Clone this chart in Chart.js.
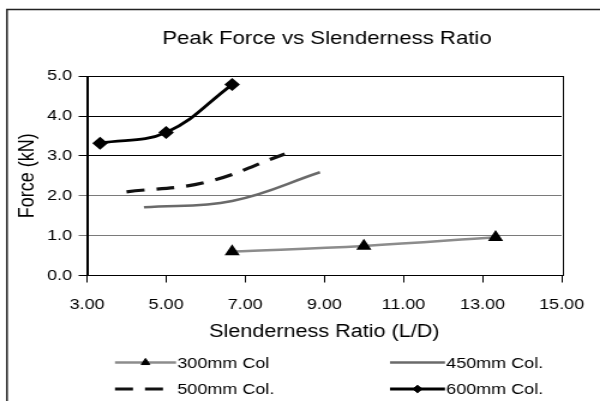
<!DOCTYPE html>
<html>
<head>
<meta charset="utf-8">
<title>Peak Force vs Slenderness Ratio</title>
<script src="https://cdn.jsdelivr.net/npm/chart.js@4/dist/chart.umd.min.js"></script>
<style>
  html, body { margin: 0; padding: 0; background: #fff; overflow: hidden; }
  #wrap { width: 600px; height: 401px; overflow: hidden; }
</style>
</head>
<body>
<!-- the source picture is stretched sideways, so the canvas is drawn 545 wide and shown 654 wide -->
<div id="wrap"><canvas id="forceChart" width="545" height="401" style="width:654px;height:401px;display:block"></canvas></div>
<script>
const seriesNames = ['300mm Col', '450mm Col.', '500mm Col.', '600mm Col.'];

const ratio300 = [6.67, 10.0, 13.33];
const force300 = [0.60, 0.74, 0.96];

const ratio450 = [4.44, 6.67, 8.89];
const force450 = [1.71, 1.87, 2.59];

const ratio500 = [4.0, 6.0, 8.0];
const force500 = [2.10, 2.34, 3.05];

const ratio600 = [3.33, 5.0, 6.67];
const force600 = [3.32, 3.59, 4.79];

const xTicks = [3, 5, 7, 9, 11, 13, 15];
const yTicks = [0, 1, 2, 3, 4, 5];

const FONT = '"Liberation Sans", Arial, sans-serif';

function toPoints(xs, ys) {
  return xs.map((x, i) => ({ x: x, y: ys[i] }));
}

const chartBorder = {
  id: 'chartBorder',
  beforeDraw(chart) {
    const ctx = chart.ctx;
    ctx.save();
    ctx.fillStyle = '#fff';
    ctx.fillRect(0, 0, chart.width, chart.height);
    ctx.strokeStyle = '#222';
    ctx.lineWidth = 1.5;
    ctx.strokeRect(5.8, 9.5, chart.width + 20, chart.height + 20);
    ctx.restore();
  },
  afterDatasetsDraw(chart) {
    const a = chart.chartArea;
    const ctx = chart.ctx;
    ctx.save();
    ctx.strokeStyle = '#000';
    ctx.lineWidth = 1;
    ctx.strokeRect(Math.round(a.left) + 0.5, Math.round(a.top) + 0.5,
      Math.round(a.right - a.left), Math.round(a.bottom - a.top));
    ctx.restore();
  }
};

// two column legend below the axis title
const sideLegend = {
  id: 'sideLegend',
  afterDraw(chart) {
    const ctx = chart.ctx;
    const cols = [{ x0: 95.8, x1: 146.7 }, { x0: 325, x1: 370.8 }];
    const rows = [362.5, 389];
    chart.data.datasets.forEach((ds, i) => {
      const c = cols[i % 2];
      const y = rows[Math.floor(i / 2)];
      const dash = ds.borderDash || [];
      const lineEnd = dash.length ? c.x0 + 2 * dash[0] + dash[1] : c.x1;
      ctx.save();
      ctx.strokeStyle = ds.borderColor;
      ctx.lineWidth = ds.borderWidth;
      ctx.setLineDash(dash);
      ctx.beginPath();
      ctx.moveTo(c.x0, y);
      ctx.lineTo(lineEnd, y);
      ctx.stroke();
      ctx.setLineDash([]);
      if (ds.pointRadius > 0) {
        ctx.fillStyle = ds.pointBackgroundColor;
        ctx.strokeStyle = ds.pointBorderColor;
        ctx.lineWidth = 1;
        Chart.helpers.drawPoint(ctx, {
          pointStyle: ds.pointStyle,
          radius: ds.pointRadius * 0.85,
          rotation: 0,
          borderWidth: 1
        }, (c.x0 + c.x1) / 2, y);
      }
      ctx.fillStyle = '#000';
      ctx.font = '15px ' + FONT;
      ctx.textAlign = 'left';
      ctx.textBaseline = 'middle';
      ctx.fillText(ds.label, c.x1 + 1, y + 1);
      ctx.restore();
    });
  }
};

const ctx = document.getElementById('forceChart').getContext('2d');
new Chart(ctx, {
  type: 'scatter',
  data: {
    datasets: [
      {
        label: seriesNames[0],
        data: toPoints(ratio300, force300),
        showLine: true,
        borderColor: '#8c8c8c',
        borderWidth: 2.5,
        pointStyle: 'triangle',
        pointRadius: 4.8,
        pointBackgroundColor: '#000',
        pointBorderColor: '#000',
        tension: 0.4
      },
      {
        label: seriesNames[1],
        data: toPoints(ratio450, force450),
        showLine: true,
        borderColor: '#6a6a6a',
        borderWidth: 2.5,
        pointRadius: 0,
        tension: 0.4
      },
      {
        label: seriesNames[2],
        data: toPoints(ratio500, force500),
        showLine: true,
        borderColor: '#111',
        borderWidth: 3.2,
        borderDash: [15, 10],
        pointRadius: 0,
        tension: 0.4
      },
      {
        label: seriesNames[3],
        data: toPoints(ratio600, force600),
        showLine: true,
        borderColor: '#000',
        borderWidth: 2.8,
        pointStyle: 'rectRot',
        pointRadius: 4.5,
        pointBackgroundColor: '#000',
        pointBorderColor: '#000',
        tension: 0.4
      }
    ]
  },
  options: {
    responsive: false,
    animation: false,
    devicePixelRatio: 1,
    layout: { padding: { left: 0, right: 0, top: 0, bottom: 58.5 } },
    plugins: {
      legend: { display: false },
      tooltip: { enabled: false },
      title: {
        display: true,
        text: 'Peak Force vs Slenderness Ratio',
        color: '#000',
        font: { family: FONT, size: 18.5, weight: 'normal' },
        padding: { top: 28, bottom: 26 }
      }
    },
    scales: {
      x: {
        type: 'linear',
        min: xTicks[0],
        max: xTicks[xTicks.length - 1],
        afterBuildTicks(scale) {
          scale.ticks = xTicks.map((v) => ({ value: v }));
        },
        afterFit(scale) { scale.height = 67; },
        ticks: {
          color: '#000',
          font: { family: FONT, size: 15 },
          padding: 13,
          maxRotation: 0,
          callback: (v) => Number(v).toFixed(2)
        },
        grid: { drawOnChartArea: false, color: '#000', tickLength: 7 },
        border: { color: '#000', width: 1 },
        title: {
          display: true,
          text: 'Slenderness Ratio (L/D)',
          color: '#000',
          font: { family: FONT, size: 18 },
          padding: 0
        }
      },
      y: {
        min: yTicks[0],
        max: yTicks[yTicks.length - 1],
        afterBuildTicks(scale) {
          scale.ticks = yTicks.map((v) => ({ value: v }));
        },
        afterFit(scale) { scale.width = 72.5; },
        ticks: {
          color: '#000',
          font: { family: FONT, size: 15 },
          padding: 5.5,
          callback: (v) => Number(v).toFixed(1)
        },
        grid: {
          color: (c) => (c.tick && (c.tick.value === 1 || c.tick.value === 2) ? '#7a7a7a' : '#000'),
          tickLength: 7,
          lineWidth: 1
        },
        border: { color: '#000', width: 1 },
        title: {
          display: true,
          text: 'Force (kN)',
          color: '#000',
          font: { family: FONT, size: 18 },
          padding: { top: 12, bottom: 0 }
        }
      },
      // empty right-hand scale that only keeps room right of the plot
      spacer: {
        type: 'linear',
        position: 'right',
        afterFit(scale) { scale.width = 77; },
        ticks: { display: false },
        grid: { display: false },
        border: { display: false }
      }
    }
  },
  plugins: [chartBorder, sideLegend]
});
</script>
</body>
</html>
